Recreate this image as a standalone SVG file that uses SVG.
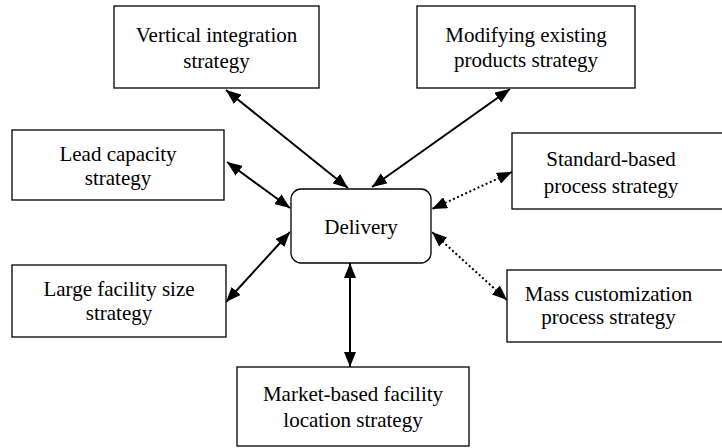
<svg xmlns="http://www.w3.org/2000/svg" width="722" height="448" viewBox="0 0 722 448">
<style>
.box{fill:#fff;stroke:#000;stroke-width:1.3}
.t{font-family:'Liberation Serif','Times New Roman',serif;font-size:21px;fill:#000;text-anchor:middle}
.c{stroke:#000;stroke-width:2;fill:none;marker-start:url(#ah);marker-end:url(#ah)}
.d{stroke-dasharray:2 2.5}
</style>
<defs>
<marker id="ah" markerUnits="userSpaceOnUse" markerWidth="15" markerHeight="12" refX="15" refY="6" orient="auto-start-reverse">
<path d="M0,0 L15,6 L0,12 z" fill="#000"/>
</marker>
</defs>
<rect width="722" height="448" fill="#fff"/>
<g id="connectors">
<line class="c" x1="226" y1="90" x2="348" y2="188"/>
<line class="c" x1="510" y1="89" x2="372" y2="187"/>
<line class="c" x1="227" y1="162" x2="290" y2="208"/>
<line class="c" x1="226" y1="302" x2="290" y2="232"/>
<line class="c d" x1="512" y1="172" x2="432" y2="209"/>
<line class="c d" x1="507" y1="300" x2="432" y2="232"/>
<line class="c" x1="350" y1="263" x2="350" y2="367"/>
</g>
<g id="vertical">
<rect class="box" x="114" y="6" width="205" height="82"/>
<text class="t" x="216.5" y="42">Vertical integration</text>
<text class="t" x="216.5" y="68">strategy</text>
</g>
<g id="modifying">
<rect class="box" x="417" y="6" width="218" height="82"/>
<text class="t" x="526" y="42">Modifying existing</text>
<text class="t" x="526" y="67">products strategy</text>
</g>
<g id="lead">
<rect class="box" x="12" y="130" width="212" height="70"/>
<text class="t" x="118" y="161">Lead capacity</text>
<text class="t" x="118" y="185">strategy</text>
</g>
<g id="large">
<rect class="box" x="12" y="265" width="214" height="72"/>
<text class="t" x="119" y="296">Large facility size</text>
<text class="t" x="119" y="320">strategy</text>
</g>
<g id="delivery">
<rect class="box" x="291" y="189" width="140" height="74" rx="10"/>
<text class="t" x="361" y="234">Delivery</text>
</g>
<g id="standard">
<rect class="box" x="512" y="133" width="212" height="76"/>
<text class="t" x="611" y="166">Standard-based</text>
<text class="t" x="611" y="193">process strategy</text>
</g>
<g id="mass">
<rect class="box" x="507" y="270" width="217" height="72"/>
<text class="t" x="608.5" y="301">Mass customization</text>
<text class="t" x="608.5" y="324">process strategy</text>
</g>
<g id="market">
<rect class="box" x="237" y="367" width="232" height="79"/>
<text class="t" x="353" y="401">Market-based facility</text>
<text class="t" x="353" y="427">location strategy</text>
</g>
</svg>
